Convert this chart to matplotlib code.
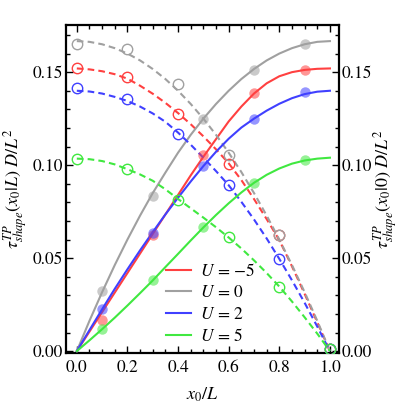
import matplotlib
matplotlib.use("Agg")
import matplotlib.pyplot as plt
from matplotlib.ticker import MultipleLocator, FormatStrFormatter

plt.rcParams['mathtext.fontset'] = 'stix'
plt.rcParams['font.family'] = ['STIXGeneral', 'DejaVu Serif']

# ---- data ----
x_curve = [0.00, 0.05, 0.10, 0.15, 0.20, 0.25, 0.30, 0.35, 0.40, 0.45, 0.50,
           0.55, 0.60, 0.65, 0.70, 0.75, 0.80, 0.85, 0.90, 0.95, 1.00]

labels = [r'$U\,=\,{-5}$', r'$U\,=\,0$', r'$U\,=\,2$', r'$U\,=\,5$']
colors = ['#FF4040', '#A0A0A0', '#4040FF', '#40E840']

# tau(x0|0): solid curves
solid_m5 = [0.0, 0.0105, 0.021, 0.0315, 0.042, 0.0525, 0.063, 0.0735, 0.084, 0.0945, 0.1045,
            0.1140, 0.1235, 0.1315, 0.1385, 0.1440, 0.1478, 0.1500, 0.1512, 0.1518, 0.1520]
solid_0 = [0.0, 0.0163, 0.0317, 0.0463, 0.0600, 0.0729, 0.0850, 0.0960, 0.1067, 0.1163, 0.1250,
           0.1329, 0.1400, 0.1463, 0.1517, 0.1563, 0.1600, 0.1629, 0.1650, 0.1663, 0.1667]
solid_2 = [0.0, 0.0113, 0.0225, 0.0335, 0.0440, 0.0542, 0.0640, 0.0735, 0.0825, 0.0912, 0.0995,
           0.1072, 0.1142, 0.1202, 0.1250, 0.1293, 0.1330, 0.1360, 0.1382, 0.1395, 0.1400]
solid_5 = [0.0, 0.0058, 0.0118, 0.0180, 0.0245, 0.0312, 0.0380, 0.0452, 0.0523, 0.0595, 0.0665,
           0.0732, 0.0795, 0.0853, 0.0905, 0.0948, 0.0982, 0.1008, 0.1025, 0.1035, 0.1040]

# tau(x0|L): dashed curves
dash_m5 = [0.1520, 0.1515, 0.1505, 0.1489, 0.1465, 0.1427, 0.1384, 0.1335, 0.1280, 0.1220, 0.1155,
           0.1085, 0.1010, 0.0920, 0.0818, 0.0710, 0.0597, 0.0456, 0.0308, 0.0155, 0.0]
dash_0 = [0.1667, 0.1663, 0.1650, 0.1629, 0.1600, 0.1563, 0.1517, 0.1463, 0.1400, 0.1329, 0.1250,
          0.1163, 0.1067, 0.0963, 0.0850, 0.0729, 0.0600, 0.0463, 0.0317, 0.0163, 0.0]
dash_2 = [0.1400, 0.1396, 0.1385, 0.1367, 0.1345, 0.1315, 0.1278, 0.1233, 0.1175, 0.1110, 0.1040,
          0.0968, 0.0892, 0.0803, 0.0708, 0.0606, 0.0496, 0.0381, 0.0260, 0.0132, 0.0]
dash_5 = [0.1035, 0.1032, 0.1022, 0.1004, 0.0978, 0.0950, 0.0916, 0.0870, 0.0818, 0.0768, 0.0718,
          0.0666, 0.0611, 0.0552, 0.0488, 0.0420, 0.0347, 0.0267, 0.0182, 0.0094, 0.0]

# simulation points
x_fill = [0.1, 0.3, 0.5, 0.7, 0.9]
fill_m5 = [0.0167, 0.0622, 0.1054, 0.1389, 0.1511]
fill_0 = [0.0324, 0.0835, 0.1250, 0.1514, 0.1649]
fill_2 = [0.0225, 0.0636, 0.0995, 0.1246, 0.1392]
fill_5 = [0.0117, 0.0380, 0.0665, 0.0905, 0.1025]

x_open = [0.0, 0.2, 0.4, 0.6, 0.8, 1.0]
open_m5 = [0.1525, 0.1475, 0.1274, 0.1005, 0.0624, 0.0010]
open_0 = [0.1650, 0.1625, 0.1435, 0.1052, 0.0624, 0.0010]
open_2 = [0.1416, 0.1353, 0.1165, 0.0892, 0.0493, 0.0010]
open_5 = [0.1031, 0.0977, 0.0815, 0.0611, 0.0346, 0.0010]

solids = [solid_m5, solid_0, solid_2, solid_5]
dashes = [dash_m5, dash_0, dash_2, dash_5]
fills = [fill_m5, fill_0, fill_2, fill_5]
opens = [open_m5, open_0, open_2, open_5]

fig = plt.figure(figsize=(4.07, 4.05), dpi=100)
ax = fig.add_axes([0.162, 0.128, 0.671, 0.810])

for s, d, f, o, c, lab in zip(solids, dashes, fills, opens, colors, labels):
    ax.plot(x_curve, s, color=c, lw=1.5, label=lab, zorder=3)
    ax.plot(x_curve, d, color=c, lw=1.5, ls=(0, (3.2, 2)), zorder=3)
    ax.plot(x_fill, f, 'o', color=c, ms=7.5, alpha=0.55, mec='none', zorder=4)
    ax.plot(x_open, o, 'o', mfc='none', mec=c, ms=7.5, mew=1.0, zorder=4)

ax.set_xlim(-0.043, 1.036)
ax.set_ylim(-0.0011, 0.1753)

ax.xaxis.set_major_locator(MultipleLocator(0.2))
ax.xaxis.set_minor_locator(MultipleLocator(0.05))
ax.yaxis.set_major_locator(MultipleLocator(0.05))
ax.yaxis.set_minor_locator(MultipleLocator(0.01))
ax.xaxis.set_major_formatter(FormatStrFormatter('%.1f'))
ax.yaxis.set_major_formatter(FormatStrFormatter('%.2f'))

for sp in ax.spines.values():
    sp.set_linewidth(1.6)

ax.tick_params(which='both', direction='in', top=True, right=True,
               labelright=True, labelsize=12.5, width=1.0)
ax.tick_params(axis='y', pad=2)
ax.tick_params(axis='x', pad=5)
ax.tick_params(which='major', length=5)
ax.tick_params(which='minor', length=2.8)

ax.set_xlabel(r'$x_0/L$', fontsize=13, labelpad=7)
ax.set_ylabel(r'$\tau^{TP}_{shape}(x_0|L)\ D/L^2$', fontsize=13, labelpad=2)
ax.text(1.172, 0.5, r'$\tau^{TP}_{shape}(x_0|0)\ D/L^2$', fontsize=13,
        rotation=90, transform=ax.transAxes, ha='center', va='center')

leg = ax.legend(loc='center left', bbox_to_anchor=(0.31, 0.15), frameon=False,
                fontsize=12.5, handlelength=1.4, handletextpad=0.55,
                labelspacing=0.3)

fig.savefig('out.png', dpi=100)
